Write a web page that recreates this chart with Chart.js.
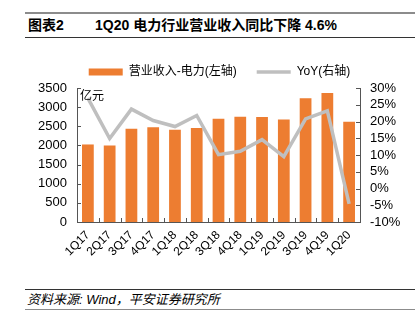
<!DOCTYPE html>
<html lang="zh">
<head>
    <meta charset="UTF-8">
    <title>1Q20 电力行业营业收入</title>
    <script src="https://cdn.jsdelivr.net/npm/chart.js"></script>
    <style>
        body { margin: 0; width: 415px; height: 328px; background: #fff; position: relative; overflow: hidden;
               font-family: "Liberation Sans", "Noto Sans CJK SC", sans-serif; color: #000; }
        #title { position: absolute; left: 25px; right: 0; top: 12px; height: 23px;
                 border-top: 2px solid #8c8c8c; border-bottom: 1px solid #333; font-weight: bold; font-size: 14px; line-height: 23px; }
        #title span { position: absolute; top: 0; }
        #footer { position: absolute; left: 25px; right: 0; top: 289px; height: 19px;
                  border-top: 1px solid #333; border-bottom: 1.5px solid #8c8c8c; font-style: italic; font-size: 13px; line-height: 19px; padding-left: 2px; }
        #wrap { position: absolute; left: 0; top: 46px; width: 415px; height: 242px; }
    </style>
</head>
<body>
    <div id="title"><span style="left:3px">图表2</span><span style="left:70px">1Q20 电力行业营业收入同比下降 4.6%</span></div>
    <div id="wrap"><canvas id="chart"></canvas></div>
    <div id="footer">资料来源: Wind，平安证券研究所</div>

    <script>
        const quarters = ['1Q17', '2Q17', '3Q17', '4Q17', '1Q18', '2Q18', '3Q18', '4Q18', '1Q19', '2Q19', '3Q19', '4Q19', '1Q20'];
        const revenue = [2025, 2000, 2437, 2478, 2411, 2453, 2694, 2750, 2745, 2676, 3235, 3371, 2617];
        const yoy = [27.0, 14.9, 23.7, 20.3, 18.5, 21.8, 10.1, 11.1, 14.6, 9.5, 20.8, 23.2, -4.6];

        Chart.defaults.font.family = '"Liberation Sans", "Noto Sans CJK SC", sans-serif';
        Chart.defaults.color = '#000';

        const axisColor = '#555';

        // short tick marks pointing into the plot, plus the unit label
        const innerTicks = {
            id: 'innerTicks',
            afterLayout(chart) {
                chart.legend.left += 12;
                chart.legend.right += 12;
            },
            afterDatasetsDraw(chart) {
                const ctx = chart.ctx;
                const {left, right, bottom} = chart.chartArea;
                const y = chart.scales.y, y1 = chart.scales.y1, x = chart.scales.x;
                ctx.save();
                ctx.strokeStyle = axisColor;
                ctx.lineWidth = 1;
                ctx.beginPath();
                y.ticks.forEach((t, i) => {
                    const p = Math.round(y.getPixelForTick(i)) + 0.5;
                    ctx.moveTo(left, p); ctx.lineTo(left + 4, p);
                });
                y1.ticks.forEach((t, i) => {
                    const p = Math.round(y1.getPixelForTick(i)) + 0.5;
                    ctx.moveTo(right - 4, p); ctx.lineTo(right, p);
                });
                for (let i = 1; i < quarters.length; i++) {
                    const p = Math.round((x.getPixelForValue(i - 1) + x.getPixelForValue(i)) / 2) + 0.5;
                    ctx.moveTo(p, bottom); ctx.lineTo(p, bottom - 4);
                }
                ctx.stroke();
                ctx.fillStyle = '#000';
                ctx.font = '12px "Noto Sans CJK SC", sans-serif';
                ctx.textBaseline = 'middle';
                ctx.fillText('亿元', left + 3, chart.chartArea.top + 7);
                ctx.restore();
            }
        };

        new Chart(document.getElementById('chart'), {
            type: 'bar',
            data: {
                labels: quarters,
                datasets: [{
                    type: 'line',
                    label: 'YoY(右轴)',
                    data: yoy,
                    yAxisID: 'y1',
                    borderColor: '#bfbfbf',
                    backgroundColor: '#bfbfbf',
                    borderWidth: 3.5,
                    pointRadius: 0,
                    tension: 0,
                    pointStyle: 'line',
                    order: 1
                }, {
                    label: '营业收入-电力(左轴)',
                    data: revenue,
                    yAxisID: 'y',
                    backgroundColor: '#ed7d31',
                    borderWidth: 0,
                    barPercentage: 0.54,
                    categoryPercentage: 1,
                    pointStyle: 'rect',
                    order: 2
                }]
            },
            options: {
                responsive: true,
                maintainAspectRatio: false,
                animation: false,
                layout: { padding: { top: 0, bottom: 0, left: 0, right: 0 } },
                plugins: {
                    legend: {
                        reverse: true,
                        labels: {
                            usePointStyle: true,
                            pointStyleWidth: 34,
                            boxHeight: 7,
                            padding: 20,
                            font: { size: 12 },
                            color: '#000'
                        }
                    },
                    tooltip: { enabled: false }
                },
                scales: {
                    x: {
                        grid: { display: false, drawTicks: false },
                        border: { display: true, color: axisColor },
                        ticks: { autoSkip: false, maxRotation: 45, minRotation: 45, padding: 6, font: { size: 12 } },
                        afterFit(s) { s.height = 66; }
                    },
                    y: {
                        position: 'left',
                        min: 0, max: 3500,
                        grid: { display: false, drawTicks: false },
                        border: { display: true, color: axisColor },
                        ticks: { autoSkip: false, stepSize: 500, padding: 10, font: { size: 13 }, callback: v => String(v) },
                        afterFit(s) { s.width = 77; }
                    },
                    y1: {
                        position: 'right',
                        min: -10, max: 30,
                        grid: { display: false, drawTicks: false },
                        border: { display: true, color: axisColor },
                        ticks: { autoSkip: false, stepSize: 5, padding: 10, font: { size: 13 }, callback: v => v + '%' },
                        afterFit(s) { s.width = 55; }
                    }
                }
            },
            plugins: [innerTicks]
        });
    </script>
</body>
</html>
